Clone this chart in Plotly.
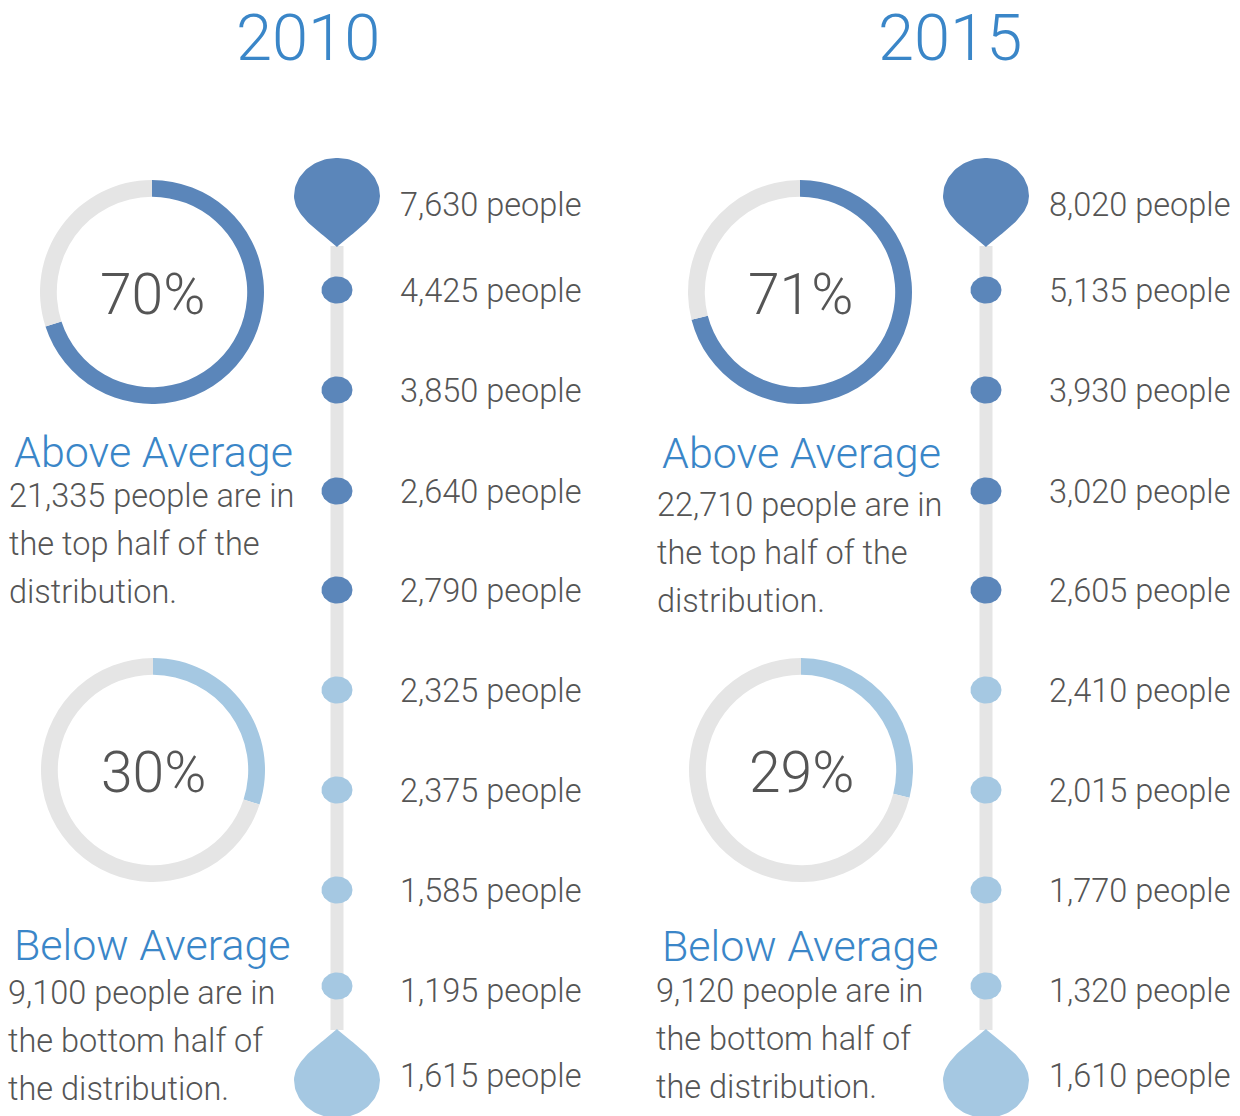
import numpy as np
import plotly.graph_objects as go

# ---------------- data ----------------
years = ["2010", "2015"]
people_2010 = [7630, 4425, 3850, 2640, 2790, 2325, 2375, 1585, 1195, 1615]
people_2015 = [8020, 5135, 3930, 3020, 2605, 2410, 2015, 1770, 1320, 1610]
above_pct = [70, 71]
below_pct = [30, 29]
above_count = [21335, 22710]
below_count = [9100, 9120]

# ---------------- style / layout ----------------
W, H = 1240, 1116
FONT = "Roboto"
BLUE = "#5b86ba"
LIGHT = "#a5c8e2"
GRAY = "#e5e5e5"
TITLE_BLUE = "#3a86c8"
TEXT = "#555555"

panel_x0 = [0, 648]          # horizontal offset of each panel
title_x = [308, 950]
line_x = [337, 986]
row_y = [196, 290, 390, 491, 590, 690, 790, 890, 986, 1080]
label_dy = [9, 1, 1, 1, 1, 1, 1, 1, 5, -4]

fig = go.Figure()


def teardrop(cx, cy, tip_down=True, a=43, b=38, d=51):
    s = 1 if tip_down else -1
    t = np.linspace(0, np.pi, 60)
    xs = list(cx + a * np.cos(t))
    ys = list(cy - s * b * np.sin(t))
    u = np.linspace(0, 1, 30)
    p0 = np.array([cx - a, cy]); p1 = np.array([cx - a, cy + s * 0.42 * d])
    p2 = np.array([cx - 0.32 * a, cy + s * 0.74 * d]); p3 = np.array([cx, cy + s * d])
    bz = ((1 - u)[:, None] ** 3 * p0 + 3 * ((1 - u) ** 2 * u)[:, None] * p1
          + 3 * ((1 - u) * u ** 2)[:, None] * p2 + (u ** 3)[:, None] * p3)
    xs += list(bz[:, 0]); ys += list(bz[:, 1])
    bz2 = bz[::-1]
    xs += list(2 * cx - bz2[:, 0]); ys += list(bz2[:, 1])
    return xs, ys


def ellipse(cx, cy, a=15.5, b=13.5):
    t = np.linspace(0, 2 * np.pi, 60)
    return list(cx + a * np.cos(t)), list(cy + b * np.sin(t))


annotations = []
LBL = 32.5

for p, (year, vals) in enumerate(zip(years, [people_2010, people_2015])):
    lx = line_x[p]
    ox = panel_x0[p]
    fig.add_trace(go.Scatter(x=[lx, lx], y=[row_y[0] + 50, row_y[-1] - 50], mode="lines",
                             line=dict(color=GRAY, width=13), hoverinfo="skip"))
    for i, v in enumerate(vals):
        col = BLUE if i < 5 else LIGHT
        if i == 0:
            xs, ys = teardrop(lx, row_y[i], tip_down=True)
        elif i == len(vals) - 1:
            xs, ys = teardrop(lx, row_y[i], tip_down=False)
        else:
            xs, ys = ellipse(lx, row_y[i])
        fig.add_trace(go.Scatter(x=xs, y=ys, mode="lines", fill="toself", fillcolor=col,
                                 line=dict(width=0, color=col), hoverinfo="skip"))
        annotations.append(dict(x=lx + 61, y=row_y[i] + label_dy[i], xref="x", yref="y",
                                text=f"{v:,} people", showarrow=False, xanchor="left",
                                yanchor="middle", font=dict(family=FONT, size=LBL, color=TEXT,
                                                            weight=300)))
    annotations.append(dict(x=title_x[p], y=38, xref="x", yref="y", text=year,
                            showarrow=False, xanchor="center", yanchor="middle",
                            font=dict(family=FONT, size=65, color=TITLE_BLUE, weight=300)))

    for k, (pct, col, cy) in enumerate([(above_pct[p], BLUE, 292), (below_pct[p], LIGHT, 770)]):
        cx = 152 + ox + k
        R = 112
        fig.add_trace(go.Pie(values=[pct, 100 - pct], marker=dict(colors=[col, GRAY], line=dict(width=0)),
                             hole=0.85, sort=False, direction="clockwise", rotation=0,
                             textinfo="none", hoverinfo="skip",
                             domain=dict(x=[(cx - R) / W, (cx + R) / W],
                                         y=[1 - (cy + R) / H, 1 - (cy - R) / H])))
        annotations.append(dict(x=cx, y=cy + 2, xref="x", yref="y", text=f"{pct}%", showarrow=False,
                                xanchor="center", yanchor="middle",
                                font=dict(family=FONT, size=57, color=TEXT, weight=300)))

    ab_y = 452 + (1 if p else 0)
    body_top = 496 + (9 if p else 0)
    annotations.append(dict(x=12 + ox, y=ab_y, xref="x", yref="y", text="Above Average",
                            showarrow=False, xanchor="left", yanchor="middle",
                            font=dict(family=FONT, size=43, color=TITLE_BLUE, weight=300)))
    lines = [f"{above_count[p]:,} people are in", "the top half of the", "distribution."]
    for j, t in enumerate(lines):
        annotations.append(dict(x=7 + ox, y=body_top + 48 * j, xref="x", yref="y", text=t,
                                showarrow=False, xanchor="left", yanchor="middle",
                                font=dict(family=FONT, size=LBL, color=TEXT, weight=300)))
    be_y = 945 + (1 if p else 0)
    body2_top = 993 - (2 if p else 0)
    annotations.append(dict(x=12 + ox, y=be_y, xref="x", yref="y", text="Below Average",
                            showarrow=False, xanchor="left", yanchor="middle",
                            font=dict(family=FONT, size=43, color=TITLE_BLUE, weight=300)))
    lines = [f"{below_count[p]:,} people are in", "the bottom half of", "the distribution."]
    for j, t in enumerate(lines):
        annotations.append(dict(x=6 + ox, y=body2_top + 48 * j, xref="x", yref="y", text=t,
                                showarrow=False, xanchor="left", yanchor="middle",
                                font=dict(family=FONT, size=LBL, color=TEXT, weight=300)))

fig.update_layout(
    width=W, height=H, margin=dict(l=0, r=0, t=0, b=0),
    paper_bgcolor="white", plot_bgcolor="white", showlegend=False,
    xaxis=dict(range=[0, W], visible=False, fixedrange=True),
    yaxis=dict(range=[H, 0], visible=False, fixedrange=True),
    annotations=annotations,
)

fig.write_html("out.html", config={"displayModeBar": False, "staticPlot": True},
               post_script="document.documentElement.style.margin='0';"
                           "document.body.style.margin='0';document.body.style.overflow='hidden';")
